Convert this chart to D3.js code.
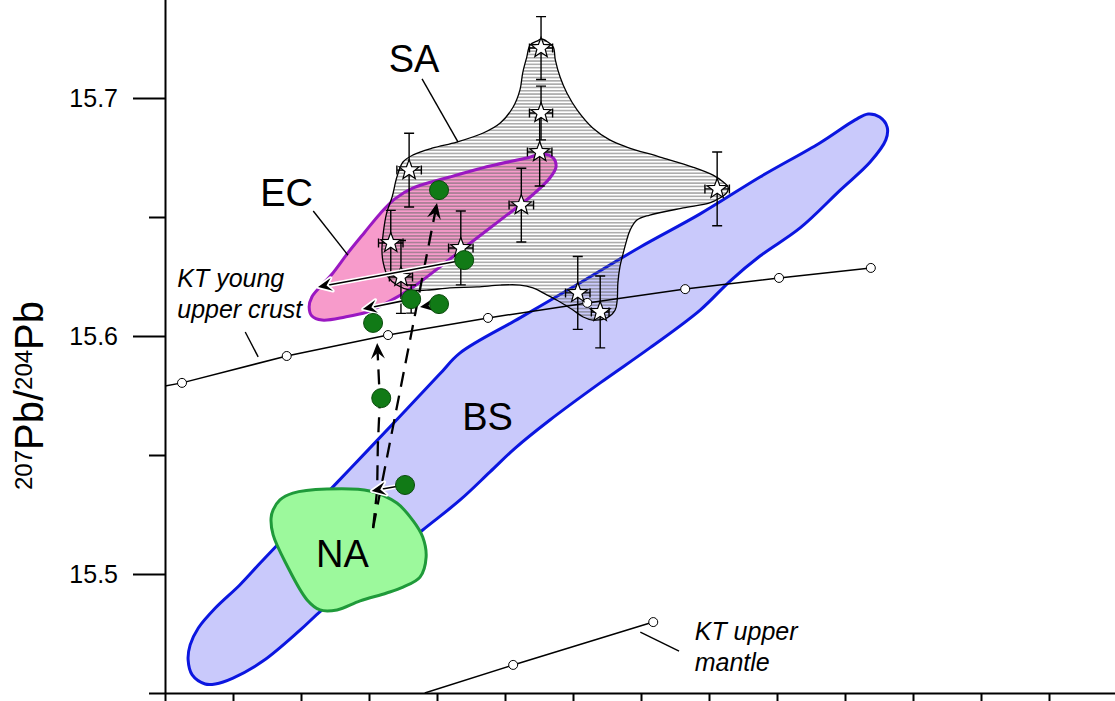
<!DOCTYPE html>
<html>
<head>
<meta charset="utf-8">
<script src="https://cdn.jsdelivr.net/npm/d3@7"></script>
<style>
  html, body { margin: 0; padding: 0; background: #fff; }
  svg { display: block; font-family: "Liberation Sans", Arial, Helvetica, sans-serif; }
</style>
</head>
<body>
<svg id="chart" width="1115" height="701"></svg>
<script>
// ---- axis ticks ----
const xTicks = [17.6, 17.7, 17.8, 17.9, 18.0, 18.1, 18.2, 18.3, 18.4, 18.5, 18.6, 18.7, 18.8, 18.9, 19.0];
const yMajorTicks = [15.5, 15.6, 15.7];
const yMinorTicks = [15.45, 15.55, 15.65];

// ---- fields (206Pb/204Pb, 207Pb/204Pb outlines) ----
const bsOutline = [
  [17.659,15.4538],[17.640,15.4576],[17.634,15.4639],[17.637,15.4702],[17.649,15.4773],
  [17.674,15.4857],[17.710,15.4954],[17.740,15.5046],[17.799,15.5223],[17.872,15.5441],
  [17.946,15.5664],[18.004,15.5840],[18.034,15.5929],[18.122,15.6076],[18.210,15.6223],
  [18.299,15.6374],[18.387,15.6513],[18.475,15.6668],[18.563,15.6811],[18.615,15.6908],
  [18.634,15.6933],[18.651,15.6920],[18.662,15.6878],[18.660,15.6824],[18.637,15.6731],
  [18.593,15.6613],[18.534,15.6454],[18.475,15.6336],[18.431,15.6231],[18.387,15.6109],
  [18.313,15.5950],[18.240,15.5803],[18.166,15.5647],[18.115,15.5529],[18.078,15.5429],
  [18.034,15.5311],[17.979,15.5185],[17.916,15.5038],[17.831,15.4849],[17.799,15.4765],
  [17.744,15.4634],[17.700,15.4563],[17.674,15.4538]
];
const naOutline = [
  [17.759,15.5269],[17.769,15.5311],[17.788,15.5340],[17.838,15.5357],[17.901,15.5349],
  [17.941,15.5298],[17.965,15.5223],[17.979,15.5155],[17.984,15.5071],[17.975,15.4987],
  [17.950,15.4945],[17.926,15.4920],[17.887,15.4887],[17.853,15.4849],[17.828,15.4849],
  [17.809,15.4891],[17.779,15.5038],[17.759,15.5164],[17.756,15.5235]
];
const ecOutline = [
  [17.812,15.6122],[17.816,15.6164],[17.828,15.6206],[17.847,15.6265],[17.869,15.6349],
  [17.894,15.6437],[17.916,15.6513],[17.938,15.6576],[17.965,15.6622],[18.019,15.6668],
  [18.078,15.6714],[18.132,15.6748],[18.156,15.6765],[18.171,15.6748],[18.175,15.6710],
  [18.166,15.6664],[18.137,15.6584],[18.093,15.6487],[18.051,15.6395],[18.004,15.6290],
  [17.965,15.6206],[17.926,15.6139],[17.897,15.6101],[17.865,15.6080],[17.831,15.6067],
  [17.816,15.6084]
];
const saOutline = [
  [18.137,15.7223],[18.147,15.7239],[18.154,15.7248],[18.163,15.7235],[18.171,15.7214],
  [18.174,15.7160],[18.181,15.7088],[18.191,15.7021],[18.206,15.6950],[18.229,15.6874],
  [18.254,15.6824],[18.279,15.6794],[18.328,15.6752],[18.376,15.6710],[18.406,15.6676],
  [18.421,15.6647],[18.428,15.6626],[18.426,15.6601],[18.416,15.6580],[18.401,15.6559],
  [18.362,15.6538],[18.313,15.6508],[18.294,15.6487],[18.284,15.6445],[18.279,15.6403],
  [18.274,15.6349],[18.269,15.6290],[18.266,15.6223],[18.265,15.6151],[18.262,15.6109],
  [18.250,15.6076],[18.229,15.6067],[18.215,15.6080],[18.200,15.6109],[18.181,15.6143],
  [18.162,15.6172],[18.141,15.6202],[18.122,15.6214],[18.093,15.6214],[18.059,15.6206],
  [18.019,15.6202],[17.985,15.6193],[17.960,15.6193],[17.941,15.6214],[17.928,15.6248],
  [17.921,15.6307],[17.919,15.6361],[17.921,15.6433],[17.926,15.6517],[17.934,15.6584],
  [17.941,15.6668],[17.950,15.6731],[17.965,15.6761],[17.994,15.6790],[18.029,15.6815],
  [18.068,15.6853],[18.093,15.6895],[18.112,15.6962],[18.122,15.7034],[18.126,15.7105],
  [18.132,15.7172]
];

// ---- SA samples with 2-sigma errors ----
const saX    = [18.153, 18.153, 18.151, 17.959, 17.932, 17.947, 18.035, 18.124, 18.207, 18.240, 18.412];
const saY    = [15.7210, 15.6937, 15.6773, 15.6697, 15.6391, 15.6248, 15.6370, 15.6550, 15.6181, 15.6101, 15.6618];
const saXErr = [0.017, 0.017, 0.018, 0.018, 0.018, 0.017, 0.018, 0.018, 0.018, 0.013, 0.018];
const saYErr = [0.0132, 0.0113, 0.0143, 0.0155, 0.0137, 0.0153, 0.0155, 0.0155, 0.0153, 0.0151, 0.0155];

// ---- studied samples ----
const sampleX = [18.003, 18.040, 17.962, 18.003, 17.906, 17.918, 17.953];
const sampleY = [15.6613, 15.6319, 15.6155, 15.6134, 15.6055, 15.5739, 15.5374];
const sampleYErr = [0, 0, 0.0059, 0, 0, 0, 0];

// solid shift arrows: [sample index, target x, target y]
const shiftArrows = [
  [1, 17.825, 15.6206],
  [2, 17.891, 15.6113],
  [3, 17.975, 15.6122],
  [6, 17.904, 15.5349]
];
// dashed trend paths
const trendA = [[17.906,15.5193],[17.912,15.5353],[17.913,15.5542],[17.916,15.5731],[17.912,15.5971]];
const trendB = [[17.906,15.5193],[18.000,15.6559]];

// ---- Kramers & Tolstikhin evolution curves ----
const ktCrust = [[17.600,15.5790],[17.625,15.5803],[17.779,15.5916],[17.928,15.6004],[18.075,15.6076],
                 [18.221,15.6139],[18.365,15.6197],[18.503,15.6244],[18.638,15.6286]];
const ktMantle = [[17.982,15.4500],[18.112,15.4618],[18.318,15.4798]];

// ---- labels and leader lines ----
const fieldLabels = [
  {text: "SA", x: 17.929, y: 15.7109},
  {text: "EC", x: 17.740, y: 15.6546},
  {text: "BS", x: 18.037, y: 15.5605},
  {text: "NA", x: 17.822, y: 15.5029}
];
const curveLabels = [
  {lines: ["KT young", "upper crust"], x: 17.618, y: [15.6206, 15.6076]},
  {lines: ["KT upper", "mantle"], x: 18.379, y: [15.4723, 15.4592]}
];
const leaders = [
  [[17.978,15.7080],[18.031,15.6815]],
  [[17.818,15.6525],[17.869,15.6340]],
  [[17.718,15.6017],[17.737,15.5912]],
  [[18.299,15.4756],[18.356,15.4676]]
];

// ================= drawing =================
const W = 1115, H = 701;
const svg = d3.select("#chart");
const x = d3.scaleLinear().domain([17.6, 19.0]).range([165, 1117]);
const y = d3.scaleLinear().domain([15.45, 15.75]).range([693, -21]);

const defs = svg.append("defs");
const pat = defs.append("pattern").attr("id", "hatch")
  .attr("patternUnits", "userSpaceOnUse").attr("width", 8).attr("height", 3.3);
pat.append("rect").attr("x", 0).attr("y", 1.2).attr("width", 8).attr("height", 0.9).attr("fill", "#6a6a6a");
defs.append("clipPath").attr("id", "plot")
  .append("rect").attr("x", x(17.6)).attr("y", 0).attr("width", W - x(17.6)).attr("height", y(15.45));

const closed = d3.line().x(d => x(d[0])).y(d => y(d[1])).curve(d3.curveCatmullRomClosed.alpha(0.5));
const open = d3.line().x(d => x(d[0])).y(d => y(d[1]));

const plot = svg.append("g").attr("clip-path", "url(#plot)");

// fields: BS underneath, NA covering it, EC and the hatched SA field above
plot.append("path").attr("d", closed(bsOutline)).attr("fill", "#c9c9fb")
  .attr("stroke", "#0b16e0").attr("stroke-width", 3);
plot.append("path").attr("d", closed(naOutline)).attr("fill", "#9cf99c")
  .attr("stroke", "#1f9a3a").attr("stroke-width", 3);
plot.append("path").attr("d", closed(ecOutline)).attr("fill", "#f79bcb");
plot.append("path").attr("d", closed(saOutline)).attr("fill", "url(#hatch)");
plot.append("path").attr("d", closed(ecOutline)).attr("fill", "none").attr("stroke", "#9a18c2").attr("stroke-width", 3);
plot.append("path").attr("d", closed(saOutline)).attr("fill", "none").attr("stroke", "#000").attr("stroke-width", 1.3);

// evolution curves
[ktCrust, ktMantle].forEach(c => {
  plot.append("path").attr("d", open(c)).attr("fill", "none").attr("stroke", "#000").attr("stroke-width", 1.5);
});
[ktCrust.slice(1), ktMantle.slice(1)].forEach(nodes => {
  plot.selectAll(null).data(nodes).enter().append("circle")
    .attr("cx", d => x(d[0])).attr("cy", d => y(d[1])).attr("r", 4.5)
    .attr("fill", "#fff").attr("stroke", "#000").attr("stroke-width", 1);
});

// leader lines
leaders.forEach(l => {
  plot.append("line")
    .attr("x1", x(l[0][0])).attr("y1", y(l[0][1])).attr("x2", x(l[1][0])).attr("y2", y(l[1][1]))
    .attr("stroke", "#000").attr("stroke-width", 1.4);
});

// SA error bars
const eb = plot.append("g").attr("stroke", "#000").attr("stroke-width", 1.4).attr("fill", "none");
saX.forEach((sx, i) => {
  const cx = x(sx), cy = y(saY[i]);
  const y0 = y(saY[i] - saYErr[i]), y1 = y(saY[i] + saYErr[i]);
  const x0 = x(sx - saXErr[i]), x1 = x(sx + saXErr[i]);
  eb.append("path").attr("d",
    `M${cx},${y0}V${y1}M${cx-5},${y0}H${cx+5}M${cx-5},${y1}H${cx+5}` +
    `M${x0},${cy}H${x1}M${x0},${cy-4.5}V${cy+4.5}M${x1},${cy-4.5}V${cy+4.5}`);
});

function starPath(R, r) {
  const pts = [];
  for (let k = 0; k < 10; k++) {
    const a = -Math.PI / 2 + k * Math.PI / 5;
    const rad = k % 2 === 0 ? R : r;
    pts.push([rad * Math.cos(a), rad * Math.sin(a)]);
  }
  return "M" + pts.map(p => p[0].toFixed(2) + "," + p[1].toFixed(2)).join("L") + "Z";
}
const star = starPath(10.5, 4.4);
plot.selectAll(null).data(saX).enter().append("path")
  .attr("d", star)
  .attr("transform", (d, i) => `translate(${x(d)},${y(saY[i])})`)
  .attr("fill", "#fff").attr("stroke", "#000").attr("stroke-width", 1.2).attr("stroke-linejoin", "miter");

// arrowhead helper
function head(g, p1, p2, len, half, fill, halo) {
  const ang = Math.atan2(p2[1] - p1[1], p2[0] - p1[0]) * 180 / Math.PI;
  const d = `M0,0L${-len},${-half}L${-len * 0.62},0L${-len},${half}Z`;
  if (halo) {
    g.append("path").attr("d", d).attr("transform", `translate(${p2[0]},${p2[1]}) rotate(${ang})`)
      .attr("fill", "#fff").attr("stroke", "#fff").attr("stroke-width", 3.5).attr("stroke-linejoin", "round");
  }
  g.append("path").attr("d", d).attr("transform", `translate(${p2[0]},${p2[1]}) rotate(${ang})`)
    .attr("fill", fill);
}

// dashed trend arrows
[trendA, trendB].forEach(t => {
  const g = plot.append("g");
  const pts = t.map(d => [x(d[0]), y(d[1])]);
  const last = pts[pts.length - 1], prev = pts[pts.length - 2];
  const ang = Math.atan2(last[1] - prev[1], last[0] - prev[0]);
  const trimmed = pts.slice(0, -1).concat([[last[0] - 10 * Math.cos(ang), last[1] - 10 * Math.sin(ang)]]);
  g.append("path").attr("d", d3.line()(trimmed)).attr("fill", "none")
    .attr("stroke", "#000").attr("stroke-width", 2.3).attr("stroke-dasharray", "15,9");
  head(g, prev, last, 16, 7, "#000", false);
});

// solid shift arrows with white casing
shiftArrows.forEach(a => {
  const g = plot.append("g");
  const p1 = [x(sampleX[a[0]]), y(sampleY[a[0]])];
  const p2 = [x(a[1]), y(a[2])];
  const ang = Math.atan2(p2[1] - p1[1], p2[0] - p1[0]);
  const e = [p2[0] - 8 * Math.cos(ang), p2[1] - 8 * Math.sin(ang)];
  g.append("line").attr("x1", p1[0]).attr("y1", p1[1]).attr("x2", e[0]).attr("y2", e[1])
    .attr("stroke", "#fff").attr("stroke-width", 4.5);
  g.append("line").attr("x1", p1[0]).attr("y1", p1[1]).attr("x2", e[0]).attr("y2", e[1])
    .attr("stroke", "#000").attr("stroke-width", 1.6);
  head(g, p1, p2, 14, 6.5, "#000", true);
});

// sample error bars and points
sampleX.forEach((sx, i) => {
  if (sampleYErr[i] > 0) {
    const cx = x(sx), y0 = y(sampleY[i] - sampleYErr[i]), y1 = y(sampleY[i] + sampleYErr[i]);
    plot.append("path").attr("d", `M${cx},${y0}V${y1}M${cx-5},${y0}H${cx+5}M${cx-5},${y1}H${cx+5}`)
      .attr("stroke", "#000").attr("stroke-width", 1.4).attr("fill", "none");
  }
});
plot.selectAll(null).data(sampleX).enter().append("circle")
  .attr("cx", d => x(d)).attr("cy", (d, i) => y(sampleY[i])).attr("r", 9.5)
  .attr("fill", "#117a16").attr("stroke", "#0a4a0c").attr("stroke-width", 1);

// text labels
svg.selectAll(null).data(fieldLabels).enter().append("text")
  .attr("x", d => x(d.x)).attr("y", d => y(d.y))
  .attr("font-size", 38).attr("fill", "#000").text(d => d.text);
curveLabels.forEach(c => {
  c.lines.forEach((t, j) => {
    svg.append("text").attr("x", x(c.x)).attr("y", y(c.y[j]))
      .attr("font-size", 25).attr("font-style", "italic").attr("fill", "#000").text(t);
  });
});

// axes
const axisStyle = g => {
  g.selectAll("path, line").attr("stroke", "#000").attr("stroke-width", 2);
  g.selectAll("text").attr("fill", "#000").attr("font-size", 25)
    .attr("font-family", "'Liberation Sans', Arial, sans-serif");
};
svg.append("g").attr("transform", `translate(0,${y(15.45)})`)
  .call(d3.axisBottom(x).tickValues(xTicks).tickSize(12).tickSizeOuter(0).tickFormat(""))
  .call(axisStyle);
svg.append("g").attr("transform", `translate(${x(17.6)},0)`)
  .call(d3.axisLeft(y).tickValues(yMajorTicks).tickSize(32).tickPadding(15).tickSizeOuter(0).tickFormat(d3.format(".1f")))
  .call(axisStyle);
svg.append("g").attr("transform", `translate(${x(17.6)},0)`)
  .call(d3.axisLeft(y).tickValues(yMinorTicks).tickSize(16).tickSizeOuter(0).tickFormat(""))
  .call(g => g.select(".domain").remove())
  .call(axisStyle);

// y axis title
const yt = svg.append("text")
  .attr("transform", `translate(43,${(y(15.6) + y(15.55)) / 2}) rotate(-90)`)
  .attr("text-anchor", "middle").attr("font-size", 40).attr("fill", "#000");
yt.append("tspan").attr("font-size", 24).attr("dy", -11).text("207");
yt.append("tspan").attr("dy", 11).text("Pb/");
yt.append("tspan").attr("font-size", 24).attr("dy", -11).text("204");
yt.append("tspan").attr("dy", 11).text("Pb");
</script>
</body>
</html>
